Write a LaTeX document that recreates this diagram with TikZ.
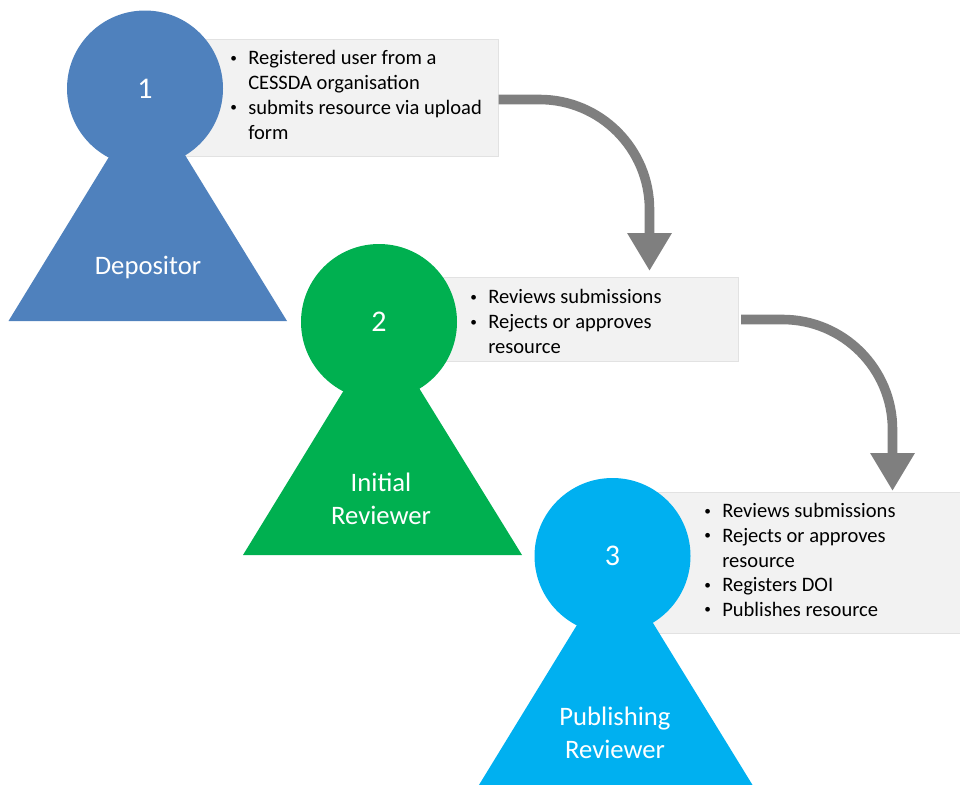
\documentclass[tikz,border=0pt]{standalone}
\usepackage{fontspec}
\setmainfont{Carlito}
\usetikzlibrary{arrows.meta}
\definecolor{boxgray}{HTML}{F2F2F2}
\definecolor{boxedge}{HTML}{E2E2E2}
\definecolor{flowgray}{HTML}{7F7F7F}
\definecolor{depblue}{HTML}{4F81BD}
\definecolor{revgreen}{HTML}{00B050}
\definecolor{pubblue}{HTML}{00B0F0}
\tikzset{x=0.75pt,y=-0.75pt,
 infobox/.style={fill=boxgray,draw=boxedge,line width=0.6pt},
 headcirc/.style={circle,minimum size=117pt,inner sep=0pt,draw=none,text=white,font=\fontsize{22.5}{24}\selectfont},
 lbl/.style={text=white,font=\fontsize{20}{24.7}\selectfont,align=center,inner sep=0pt},
 item/.style={text=black,font=\fontsize{15.4}{18}\selectfont,anchor=base west,inner sep=0pt},
 bul/.style={text=black,font=\fontsize{10}{12}\selectfont,anchor=base west,inner sep=0pt,xshift=1.5pt,yshift=1.6pt},
 flow/.style={draw=flowgray,line width=7.2pt,-{Triangle[length=28.5pt,width=31.5pt]}}
}
\begin{document}
\begin{tikzpicture}
\useasboundingbox (0,0) rectangle (960,785);
\clip (0,0) rectangle (960,785);
% boxes
\draw[infobox] (170,39.5) rectangle (498.5,156) coordinate (b1se);
\draw[infobox] (420,277.5) rectangle (738.5,361) coordinate (b2se);
\draw[infobox] (650,492) rectangle (961,633);
% connectors
\coordinate (s1) at (498.5,99.5);
\coordinate (t1) at (649.5,271);
\coordinate (s2) at (741,319.5);
\coordinate (t2) at (892.5,491);
\draw[flow] (s1) -- (539.5,99.5) arc[start angle=90,end angle=0,radius=110*0.75pt] -- (t1);
\draw[flow] (s2) -- (782.5,319.5) arc[start angle=90,end angle=0,radius=110*0.75pt] -- (t2);
% figures
\fill[depblue] (8.5,321) -- (287,321) -- (147.5,94) -- cycle;
\fill[revgreen] (243,555) -- (522,555) -- (382,328) -- cycle;
\fill[pubblue] (476.5,789) -- (755,789) -- (615.5,562) -- cycle;
\node[headcirc,fill=depblue] (h1) at (145,88.5) {1};
\node[headcirc,fill=revgreen] (h2) at (379,322) {2};
\node[headcirc,fill=pubblue] (h3) at (612.5,556) {3};
% labels
\node[lbl] (l1) at (148,267.5) {Depositor};
\node[lbl] (l2) at (381,499) {Initial\\Reviewer};
\node[lbl] (l3) at (615,733) {Publishing\\Reviewer};
% text
\node[bul] (i1b) at (228,64.5) {•};
\node[item] (i1) at (248,64.5) {Registered user from a};
\node[item] (i2) at (248,89.5) {CESSDA organisation};
\node[bul] (i3b) at (228,114) {•};
\node[item] (i3) at (248,114) {submits resource via upload};
\node[item] (i4) at (248,139) {form};
\node[bul] (j1b) at (468,303.5) {•};
\node[item] (j1) at (488,303.5) {Reviews submissions};
\node[bul] (j2b) at (468,328.5) {•};
\node[item] (j2) at (488,328.5) {Rejects or approves};
\node[item] (j3) at (488,353) {resource};
\node[bul] (k1b) at (702,517.5) {•};
\node[item] (k1) at (722,517.5) {Reviews submissions};
\node[bul] (k2b) at (702,542) {•};
\node[item] (k2) at (722,542) {Rejects or approves};
\node[item] (k3) at (722,567) {resource};
\node[bul] (k4b) at (702,591.5) {•};
\node[item] (k4) at (722,591.5) {Registers DOI};
\node[bul] (k5b) at (702,616) {•};
\node[item] (k5) at (722,616) {Publishes resource};
\end{tikzpicture}
\end{document}
